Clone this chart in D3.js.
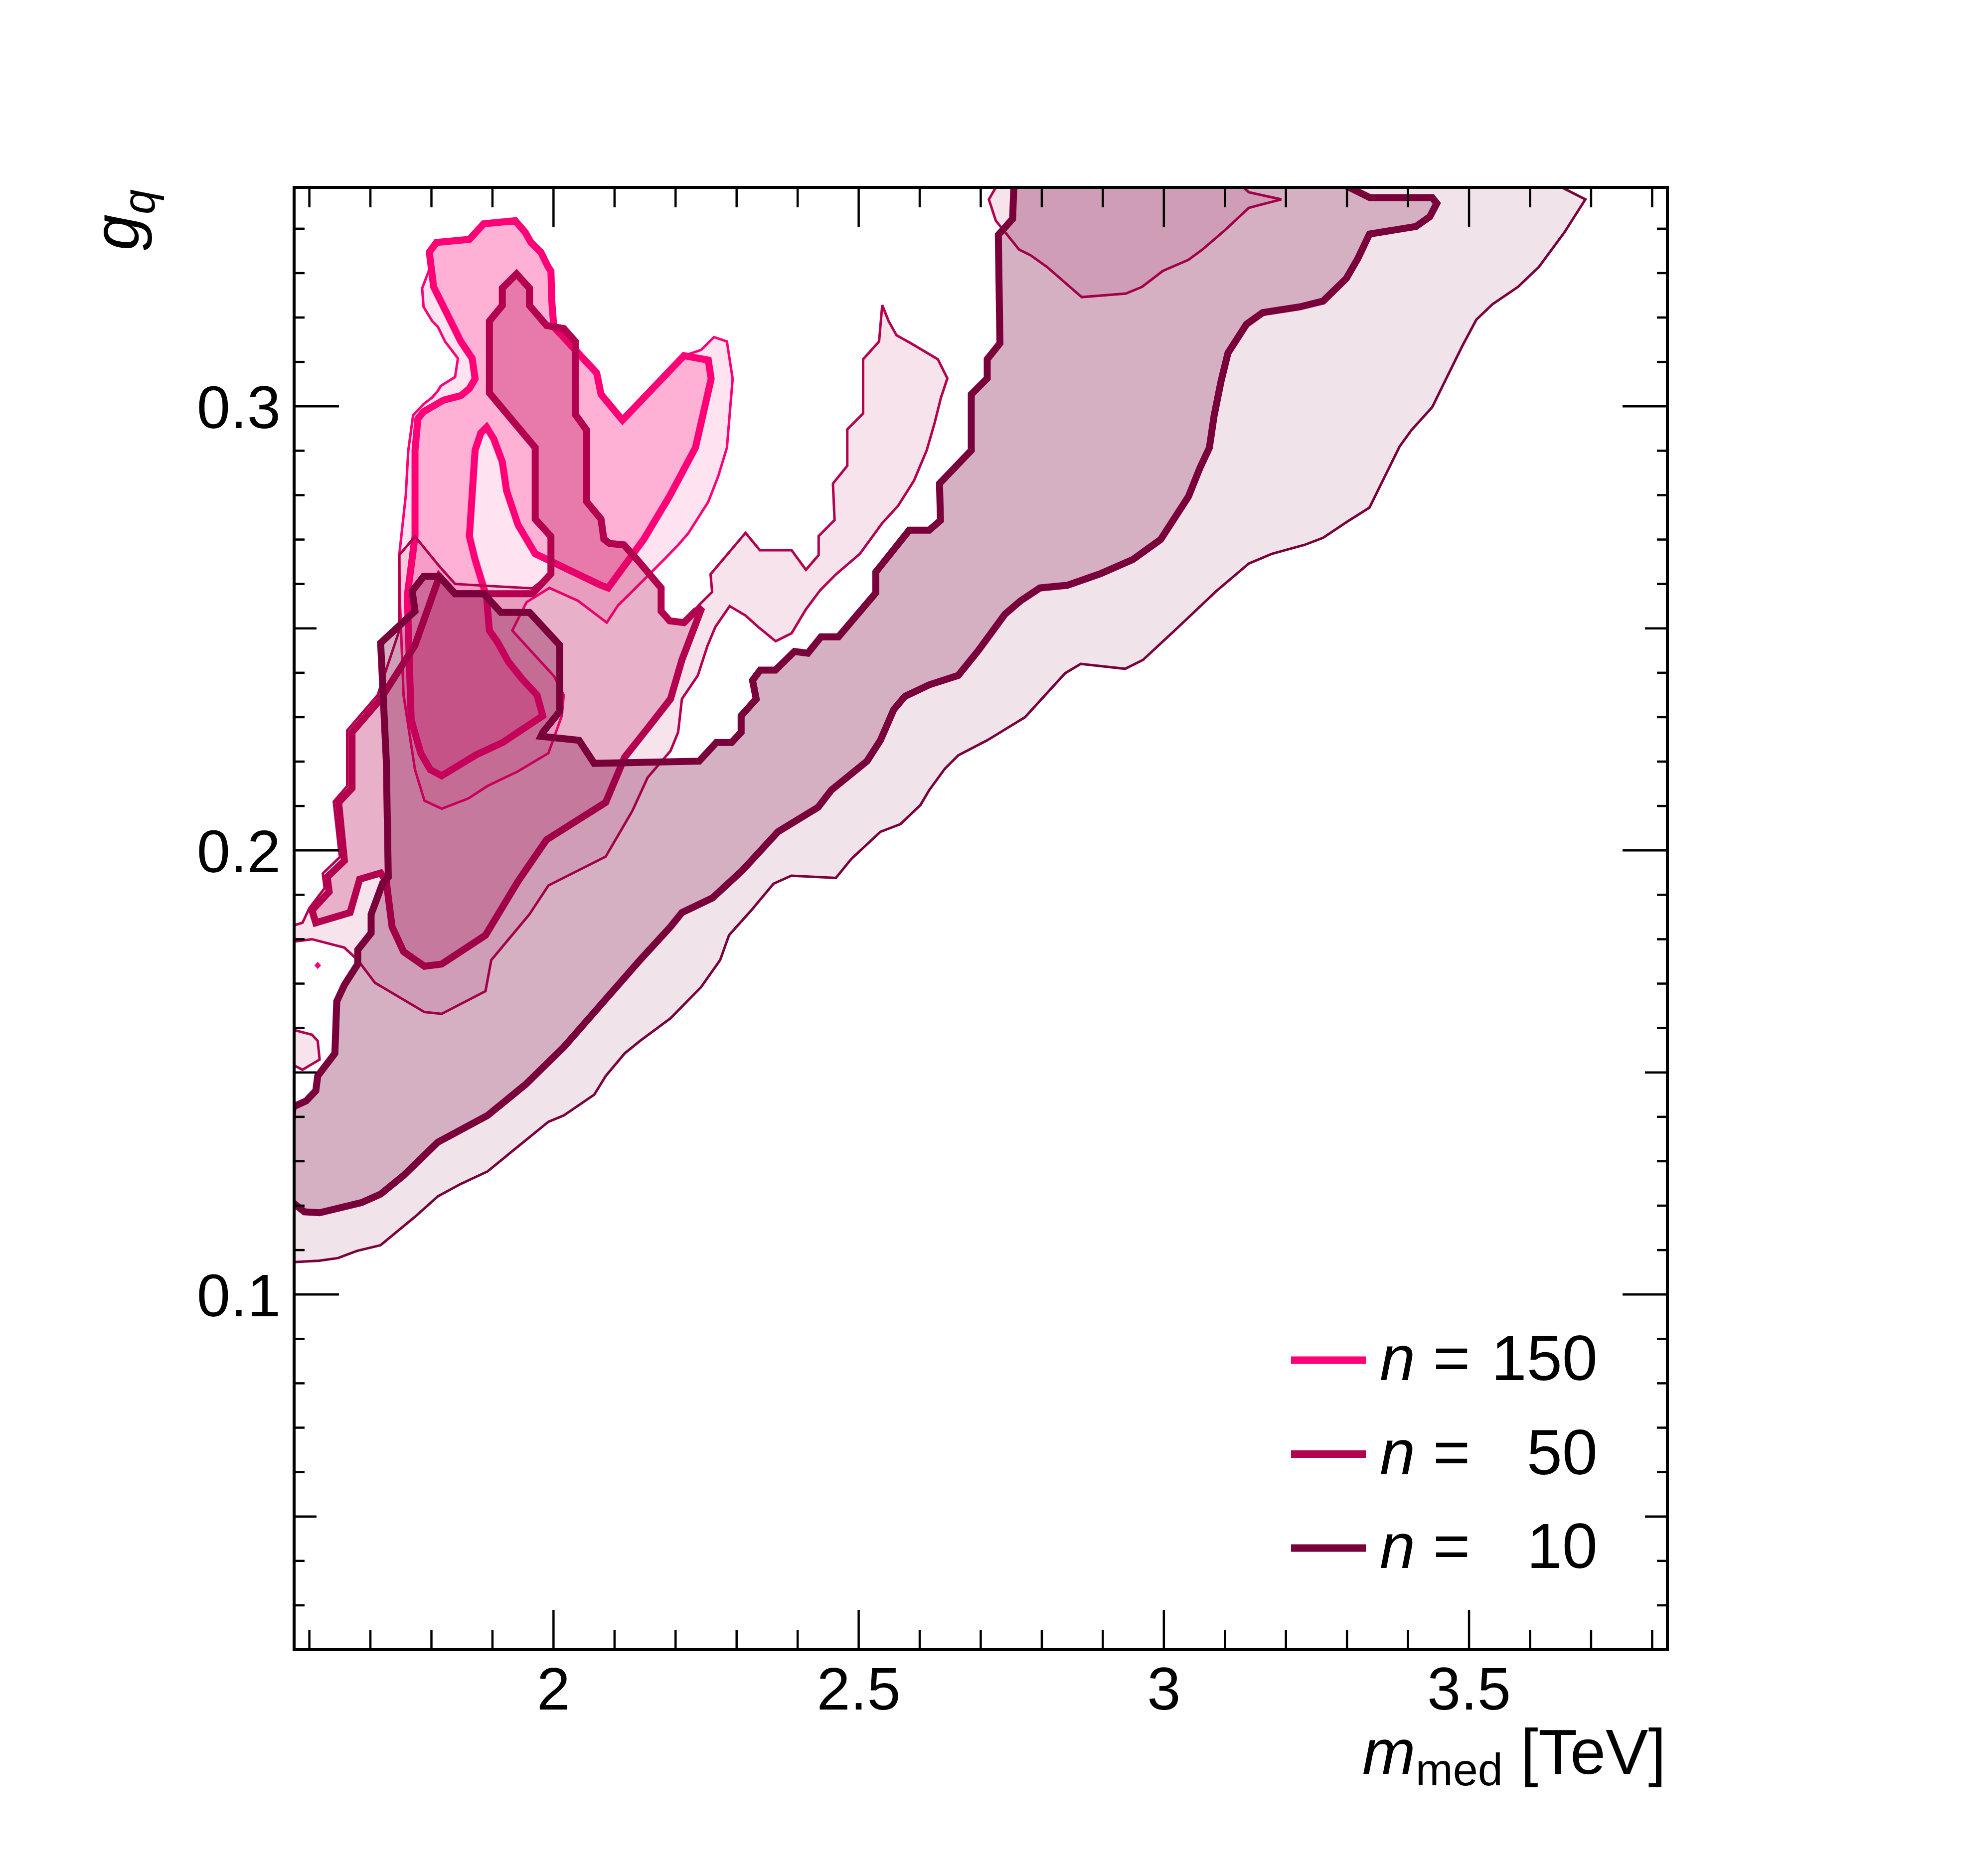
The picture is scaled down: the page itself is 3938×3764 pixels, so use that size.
<!DOCTYPE html>
<html>
<head>
<meta charset="utf-8">
<script src="https://cdn.jsdelivr.net/npm/d3@7"></script>
<style>
  body { margin: 0; background: #fff; }
  svg { display: block; }
  text { font-family: "Liberation Sans", Arial, Helvetica, sans-serif; fill: #000; }
</style>
</head>
<body>
<svg id="chart" width="3938" height="3764"></svg>
<script>
// ---- data: contour outlines in (m_med [TeV], g_q) ----
const n10Staircase = [[1.573,0.1422],[1.5949,0.1436],[1.6106,0.1459],[1.6137,0.1492],[1.6418,0.1543],[1.6449,0.1660],[1.6574,0.1697],[1.6793,0.1744],[1.6793,0.1776],[1.7012,0.1814],[1.7012,0.1856],[1.7200,0.1926],[1.7293,0.1940],[1.7261,0.2201],[1.7168,0.2467],[1.7731,0.2539],[1.7684,0.2584],[1.7872,0.2617],[1.8130,0.2617],[1.8388,0.2578],[1.8857,0.2578],[1.9138,0.2536],[1.9607,0.2536],[2.0103,0.2462],[2.0103,0.2313],[1.9825,0.2266],[1.9793,0.2257],[2.0418,0.2248],[2.0667,0.2196],[2.2386,0.2201],[2.2668,0.2243],[2.2917,0.2243],[2.3074,0.2266],[2.3074,0.2303],[2.3321,0.2341],[2.3261,0.2383],[2.3387,0.2406],[2.3636,0.2406],[2.3948,0.2448],[2.4167,0.2444],[2.4383,0.2481],[2.4669,0.2481],[2.5281,0.2580],[2.5281,0.2627],[2.5828,0.2721],[2.6155,0.2721],[2.6340,0.2743],[2.6324,0.2826],[2.6845,0.2901],[2.6845,0.3027],[2.7106,0.3063],[2.7106,0.3106],[2.7314,0.3142],[2.7288,0.3386],[2.7522,0.3422],[2.7549,0.352]];
const n10InnerEdge = [[3.2646,0.352],[3.3374,0.3470],[3.4054,0.3470],[3.4396,0.3470],[3.4472,0.3457],[3.4357,0.3427],[3.4130,0.3405],[3.3369,0.3388],[3.3179,0.3333],[3.2989,0.3288],[3.2609,0.3237],[3.2228,0.3224],[3.1620,0.3211],[3.1354,0.3185],[3.1050,0.3120],[3.0936,0.3056],[3.0822,0.2978],[3.0746,0.2907],[3.0593,0.2862],[3.0404,0.2797],[2.9947,0.2700],[2.9491,0.2655],[2.8959,0.2623],[2.8418,0.2597],[2.7970,0.2591],[2.7652,0.2562],[2.7397,0.2532],[2.6960,0.2450],[2.6631,0.2394],[2.6157,0.2373],[2.5757,0.2347],[2.5574,0.2317],[2.5356,0.2248],[2.5137,0.2201],[2.4553,0.2136],[2.4335,0.2097],[2.3678,0.2042],[2.3095,0.1955],[2.2605,0.1893],[2.2105,0.1860],[2.1917,0.1828],[2.1417,0.1753],[2.0792,0.1655],[2.0168,0.1557],[1.9543,0.1473],[1.8918,0.1403],[1.8105,0.1343],[1.7543,0.1268],[1.7168,0.1226],[1.6856,0.1207],[1.6168,0.1184],[1.5918,0.1186],[1.5731,0.1207],[1.565,0.1210]];
const n10OuterEdge = [[3.6135,0.352],[3.6906,0.3466],[3.6563,0.3392],[3.6145,0.3314],[3.5803,0.3269],[3.5384,0.3230],[3.5119,0.3195],[3.4890,0.3136],[3.4510,0.3030],[3.4396,0.2998],[3.4054,0.2946],[3.3864,0.2910],[3.3369,0.2772],[3.2989,0.2739],[3.2609,0.2704],[3.2305,0.2688],[3.1773,0.2668],[3.1392,0.2646],[3.0860,0.2584],[3.0175,0.2495],[2.9658,0.2429],[2.9366,0.2409],[2.8637,0.2420],[2.8382,0.2399],[2.7726,0.2300],[2.7106,0.2248],[2.6631,0.2214],[2.6412,0.2184],[2.6157,0.2136],[2.6011,0.2102],[2.5684,0.2059],[2.5356,0.2042],[2.4881,0.1981],[2.4626,0.1938],[2.3897,0.1943],[2.3605,0.1925],[2.3240,0.1865],[2.2876,0.1809],[2.2730,0.1753],[2.2417,0.1692],[2.1917,0.1622],[2.1417,0.1571],[2.1167,0.1543],[2.0855,0.1492],[2.0668,0.1450],[2.0168,0.1403],[1.9918,0.1389],[1.9417,0.1333],[1.8918,0.1277],[1.8480,0.1249],[1.8105,0.1221],[1.7731,0.1175],[1.7167,0.1111],[1.6777,0.1098],[1.6470,0.1082],[1.6162,0.1076],[1.5752,0.1073],[1.565,0.1073]];

const n50Inner = [[1.9395,0.3298],[1.9606,0.3266],[1.9606,0.3227],[1.9887,0.3182],[2.0169,0.3175],[2.0356,0.3146],[2.0356,0.2982],[2.0544,0.2946],[2.0544,0.2785],[2.0778,0.2746],[2.0825,0.2701],[2.0919,0.2691],[2.1153,0.2688],[2.1388,0.2652],[2.1763,0.2591],[2.1763,0.2539],[2.1903,0.2517],[2.2138,0.2513],[2.2326,0.2539],[2.2429,0.2546],[2.2104,0.2429],[2.1917,0.2341],[2.1542,0.2275],[2.1167,0.2210],[2.0855,0.2108],[1.9886,0.2024],[1.9417,0.1930],[1.8886,0.1809],[1.8168,0.1744],[1.7886,0.1739],[1.7543,0.1772],[1.7355,0.1828],[1.7261,0.1930],[1.7168,0.1949],[1.6824,0.1935],[1.6668,0.1860],[1.6105,0.1837],[1.6043,0.1865],[1.6324,0.1907],[1.6293,0.1940],[1.6574,0.1977],[1.6480,0.2108],[1.6699,0.2140],[1.6699,0.2266],[1.7168,0.2341],[1.7730,0.2462],[1.8129,0.2617],[1.8387,0.2578],[1.9653,0.2578],[1.9958,0.2623],[1.9958,0.2707],[1.9700,0.2746],[1.9700,0.2907],[1.8950,0.3030],[1.8950,0.3192],[1.9161,0.3227],[1.9161,0.3266]];
const n50Outer = [[2.2326,0.2539],[2.2365,0.2550],[2.2599,0.2582],[2.2573,0.2622],[2.3146,0.2715],[2.3381,0.2676],[2.3901,0.2676],[2.4136,0.2632],[2.4344,0.2665],[2.4344,0.2708],[2.4605,0.2744],[2.4578,0.2826],[2.4813,0.2866],[2.4813,0.2948],[2.5073,0.2984],[2.5073,0.3106],[2.5334,0.3146],[2.5386,0.3228],[2.5490,0.3192],[2.5620,0.3160],[2.5855,0.3142],[2.6297,0.3106],[2.6453,0.3063],[2.6349,0.3020],[2.6245,0.2963],[2.6115,0.2901],[2.5907,0.2833],[2.5646,0.2776],[2.5386,0.2737],[2.5021,0.2668],[2.4630,0.2622],[2.4370,0.2586],[2.4136,0.2543],[2.3901,0.2489],[2.3641,0.2471],[2.3355,0.2503],[2.3146,0.2529],[2.2886,0.2550],[2.2651,0.2503],[2.2521,0.2460],[2.2365,0.2394],[2.2104,0.2341],[2.2042,0.2266],[2.1917,0.2224],[2.1542,0.2164],[2.1292,0.2089],[2.0855,0.1986],[1.9917,0.1921],[1.9605,0.1856],[1.8980,0.1753],[1.8886,0.1683],[1.8168,0.1632],[1.7886,0.1636],[1.7074,0.1702],[1.6793,0.1753],[1.6574,0.1781],[1.6043,0.1800],[1.5762,0.1795],[1.565,0.1795],[1.565,0.1832],[1.5762,0.1832],[1.5887,0.1837],[1.6000,0.1870],[1.6250,0.1915],[1.6220,0.1948],[1.6500,0.1985],[1.6400,0.2110],[1.6620,0.2145],[1.6620,0.2270],[1.7120,0.2350],[1.7473,0.2495],[1.7473,0.2665],[1.7731,0.2707],[1.8129,0.2640],[1.8387,0.2600],[1.9653,0.2590],[1.9958,0.2623],[1.9958,0.2707],[1.9700,0.2746],[1.9700,0.2907],[1.8950,0.3030],[1.8950,0.3192],[1.9161,0.3227],[1.9161,0.3266],[1.9395,0.3298],[1.9606,0.3266],[1.9606,0.3227],[1.9887,0.3182],[2.0169,0.3175],[2.0356,0.3146],[2.0356,0.2982],[2.0544,0.2946],[2.0544,0.2785],[2.0778,0.2746],[2.0825,0.2701],[2.0919,0.2691],[2.1153,0.2688],[2.1388,0.2652],[2.1763,0.2591],[2.1763,0.2539],[2.1903,0.2517],[2.2138,0.2513]];
const n50TopPiece = [[2.7362,0.352],[2.7133,0.3466],[2.7247,0.3418],[2.7628,0.3353],[2.7818,0.3340],[2.8084,0.3314],[2.8654,0.3246],[2.9377,0.3254],[2.9643,0.3269],[2.9985,0.3305],[3.0403,0.3330],[3.0631,0.3353],[3.1012,0.3398],[3.1392,0.3447],[3.1924,0.3466],[3.1392,0.3482],[3.1088,0.352]];
const n50Island = [[1.565,0.1595],[1.5762,0.1595],[1.6043,0.1585],[1.6137,0.1571],[1.6168,0.1529],[1.5887,0.1506],[1.5762,0.1515],[1.565,0.1515]];

const n150Inner = [[1.7965,0.3347],[1.8082,0.3369],[1.8622,0.3376],[1.8856,0.3411],[1.9372,0.3418],[1.9536,0.3392],[1.9630,0.3369],[1.9794,0.3347],[1.9911,0.3314],[1.9958,0.3305],[1.9972,0.3237],[2.0005,0.3179],[2.0356,0.3127],[2.0708,0.3075],[2.0778,0.3027],[2.1130,0.2969],[2.2138,0.3114],[2.2536,0.3104],[2.2583,0.3062],[2.2326,0.2907],[2.1903,0.2798],[2.1481,0.2701],[2.0895,0.2591],[2.0778,0.2597],[1.9700,0.2668],[1.9419,0.2733],[1.9231,0.2810],[1.9161,0.2875],[1.9020,0.2927],[1.8903,0.2953],[1.8809,0.2940],[1.8715,0.2901],[1.8622,0.2707],[1.8715,0.2655],[1.8903,0.2571],[1.8950,0.2495],[1.9074,0.2471],[1.9261,0.2425],[1.9480,0.2387],[1.9730,0.2350],[1.9824,0.2303],[1.9167,0.2243],[1.8730,0.2215],[1.8168,0.2168],[1.7980,0.2182],[1.7824,0.2219],[1.7668,0.2294],[1.7636,0.2434],[1.7605,0.2574],[1.7731,0.2707],[1.7731,0.2901],[1.7778,0.2972],[1.7871,0.2988],[1.8200,0.3014],[1.8481,0.3024],[1.8622,0.3040],[1.8715,0.3062],[1.8668,0.3108],[1.8481,0.3146],[1.8293,0.3198],[1.8036,0.3269]];
const n150Outer = [[1.7965,0.3347],[1.8082,0.3369],[1.8622,0.3376],[1.8856,0.3411],[1.9372,0.3418],[1.9536,0.3392],[1.9630,0.3369],[1.9794,0.3347],[1.9911,0.3314],[1.9958,0.3305],[1.9972,0.3237],[2.0005,0.3179],[2.0356,0.3127],[2.0708,0.3075],[2.0778,0.3027],[2.1130,0.2969],[2.2138,0.3114],[2.2419,0.3127],[2.2630,0.3156],[2.2841,0.3146],[2.2935,0.3062],[2.2841,0.2907],[2.2700,0.2843],[2.2536,0.2785],[2.2208,0.2714],[2.2044,0.2688],[2.1810,0.2655],[2.1294,0.2584],[2.1059,0.2552],[2.0872,0.2513],[2.0403,0.2562],[1.9934,0.2591],[1.9559,0.2559],[1.9325,0.2495],[1.9730,0.2434],[2.0011,0.2392],[2.0167,0.2350],[2.0136,0.2303],[1.9917,0.2219],[1.9417,0.2178],[1.8918,0.2145],[1.8605,0.2117],[1.8168,0.2094],[1.7886,0.2112],[1.7730,0.2182],[1.7543,0.2350],[1.7480,0.2574],[1.7473,0.2665],[1.7580,0.2800],[1.7620,0.2900],[1.7700,0.2980],[1.7871,0.3005],[1.8012,0.3020],[1.8106,0.3035],[1.8153,0.3046],[1.8387,0.3066],[1.8434,0.3108],[1.8223,0.3146],[1.8106,0.3179],[1.8012,0.3192],[1.7871,0.3224],[1.7848,0.3266],[1.7965,0.3308]];
const n150Dot = [[1.611,0.1741],[1.6137,0.1745],[1.6164,0.1741],[1.6137,0.1737]];

// legend and axis labels
const legendN = ['150', '50', '10'];
const seriesColors = ['#ff0077', '#b3004f', '#7a003c'];
const xMajorTicks = [2, 2.5, 3, 3.5];
const xTickLabels = ['2', '2.5', '3', '3.5'];
const yMajorTicks = [0.1, 0.2, 0.3];
const yTickLabels = ['0.1', '0.2', '0.3'];

// ---- layout ----
const W = 3938, H = 3764;
const frame = {left: 590, right: 3345, top: 376, bottom: 3310};
const x = d3.scaleLinear().domain([1.575, 3.825]).range([frame.left, frame.right]);
const y = d3.scaleLinear().domain([0.02, 0.3493]).range([frame.bottom, frame.top]);
const [c150, c50, c10] = seriesColors;

const svg = d3.select('#chart');
svg.append('rect').attr('width', W).attr('height', H).attr('fill', '#fff');
svg.append('defs').append('clipPath').attr('id', 'plotArea')
  .append('rect')
    .attr('x', frame.left).attr('y', frame.top)
    .attr('width', frame.right - frame.left).attr('height', frame.bottom - frame.top);

const line = d3.line().x(d => x(d[0])).y(d => y(d[1]));
const closed = d => line(d) + 'Z';

const plot = svg.append('g').attr('clip-path', 'url(#plotArea)');

// each series: light outer level, stacked inner level, then its outlines
const series = [
  {
    fills: [{d: n150Outer, o: 0.11}, {d: n150Dot, o: 0.5}, {d: n150Inner, o: 0.225}],
    lines: [{d: n150Outer, w: 5, z: true}, {d: n150Dot, w: 5, z: true}, {d: n150Inner, w: 14, z: true}],
    c: c150
  },
  {
    fills: [{d: n50Outer, o: 0.11}, {d: n50TopPiece, o: 0.11}, {d: n50Island, o: 0.11}, {d: n50Inner, o: 0.225}],
    lines: [{d: n50Outer, w: 5, z: true}, {d: n50TopPiece, w: 5, z: true}, {d: n50Island, w: 5, z: true}, {d: n50Inner, w: 14, z: true}],
    c: c50
  },
  {
    fills: [{d: n10Staircase.concat(n10OuterEdge), o: 0.11}, {d: n10Staircase.concat(n10InnerEdge), o: 0.225}],
    lines: [{d: n10OuterEdge, w: 5, z: false}, {d: n10Staircase.concat(n10InnerEdge), w: 14, z: true}],
    c: c10
  }
];

series.forEach(s => {
  const g = plot.append('g');
  g.selectAll('path.fill')
    .data(s.fills)
    .join('path')
      .attr('class', 'fill')
      .attr('d', f => closed(f.d))
      .attr('fill', s.c)
      .attr('fill-opacity', f => f.o);
  g.selectAll('path.edge')
    .data(s.lines)
    .join('path')
      .attr('class', 'edge')
      .attr('d', o => o.z ? closed(o.d) : line(o.d))
      .attr('fill', 'none')
      .attr('stroke', s.c)
      .attr('stroke-width', o => o.w)
      .attr('stroke-linejoin', 'miter')
      .attr('stroke-miterlimit', 2);
});

// ---- axes ----
const axes = svg.append('g').attr('stroke', '#000').attr('stroke-width', 4.5);
const xMinor = d3.range(16, 39).map(v => v / 10).filter(v => !xMajorTicks.some(m => Math.abs(m - v) < 1e-6));
const yAll = d3.range(2, 35).map(v => v / 100);
const yLen = v => (Math.abs(v * 10 - Math.round(v * 10)) < 1e-6) ? 90 : (Math.abs(v * 20 - Math.round(v * 20)) < 1e-6 ? 45 : 21);

[{v: xMajorTicks, len: 80}, {v: xMinor, len: 40}].forEach(set => {
  set.v.forEach(t => {
    axes.append('line').attr('x1', x(t)).attr('x2', x(t)).attr('y1', frame.bottom).attr('y2', frame.bottom - set.len);
    axes.append('line').attr('x1', x(t)).attr('x2', x(t)).attr('y1', frame.top).attr('y2', frame.top + set.len);
  });
});
yAll.forEach(t => {
  const L = yLen(t);
  axes.append('line').attr('x1', frame.left).attr('x2', frame.left + L).attr('y1', y(t)).attr('y2', y(t));
  axes.append('line').attr('x1', frame.right).attr('x2', frame.right - L).attr('y1', y(t)).attr('y2', y(t));
});

svg.append('rect')
  .attr('x', frame.left).attr('y', frame.top)
  .attr('width', frame.right - frame.left).attr('height', frame.bottom - frame.top)
  .attr('fill', 'none').attr('stroke', '#000').attr('stroke-width', 6);

svg.append('g').attr('font-size', 121).attr('text-anchor', 'middle')
  .selectAll('text').data(xMajorTicks).join('text')
    .attr('x', d => x(d)).attr('y', 3430)
    .text((d, i) => xTickLabels[i]);

svg.append('g').attr('font-size', 121).attr('text-anchor', 'end')
  .selectAll('text').data(yMajorTicks).join('text')
    .attr('x', 563).attr('y', d => y(d) + 44)
    .text((d, i) => yTickLabels[i]);

// axis titles
const xTitle = svg.append('text').attr('x', 3342).attr('y', 3559).attr('font-size', 128).attr('text-anchor', 'end');
xTitle.append('tspan').attr('font-style', 'italic').text('m');
xTitle.append('tspan').attr('font-size', 90).attr('dy', 23).text('med');
xTitle.append('tspan').attr('dy', -23).text('\u00a0[TeV]');

const yTitle = svg.append('text').attr('transform', 'translate(278,380) rotate(-90)')
  .attr('font-size', 130).attr('text-anchor', 'end');
yTitle.append('tspan').attr('font-style', 'italic').text('g');
yTitle.append('tspan').attr('font-style', 'italic').attr('font-size', 90).attr('dy', 32).text('q');

// ---- legend ----
const legendY = d3.scaleLinear().domain([0, 2]).range([2729, 3106]);
const legend = svg.append('g');
legendN.forEach((n, i) => {
  const cy = legendY(i);
  legend.append('line').attr('x1', 2590).attr('x2', 2740).attr('y1', cy).attr('y2', cy)
    .attr('stroke', seriesColors[i]).attr('stroke-width', 15);
  const t = legend.append('text').attr('x', 2768).attr('y', cy + 40).attr('font-size', 128);
  t.append('tspan').attr('font-style', 'italic').text('n');
  t.append('tspan').text('\u00a0=');
  legend.append('text').attr('x', 3205).attr('y', cy + 40).attr('font-size', 128)
    .attr('text-anchor', 'end').text(n);
});
</script>
</body>
</html>
